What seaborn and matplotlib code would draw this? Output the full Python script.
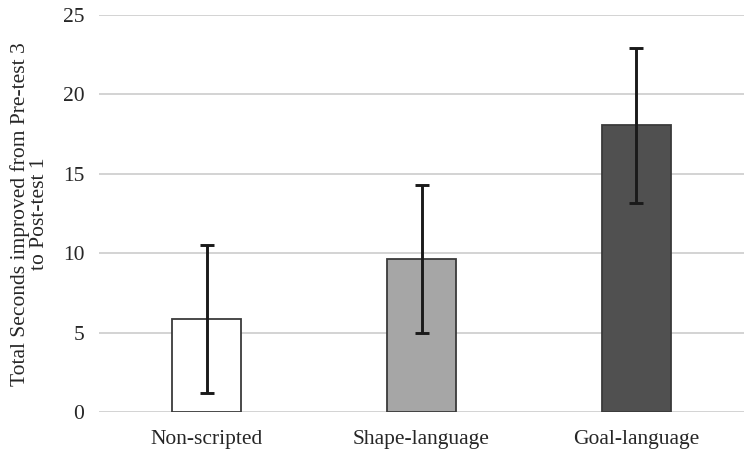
import matplotlib
matplotlib.use("Agg")
import matplotlib.pyplot as plt
import seaborn as sns
import pandas as pd

categories = ["Non-scripted", "Shape-language", "Goal-language"]
means = [5.85, 9.65, 18.05]
errors = [4.65, 4.67, 4.9]
colors = ["#ffffff", "#a6a6a6", "#505050"]
yticks = [0, 5, 10, 15, 20, 25]

sns.set_style("white")
plt.rcParams["font.family"] = ["Liberation Serif", "DejaVu Serif"]

df = pd.DataFrame({"cat": categories, "val": means})

fig = plt.figure(figsize=(7.5, 4.59), dpi=100)
ax = fig.add_axes([99.5 / 750, 1 - 412.3 / 459, 644 / 750, (412.3 - 15) / 459])

sns.barplot(data=df, x="cat", y="val", hue="cat", palette=colors, legend=False,
            width=0.32, edgecolor="#3a3a3a", linewidth=1.3, errorbar=None, ax=ax, zorder=3)
ax.errorbar(range(len(categories)), means, yerr=errors, fmt="none", ecolor="#1a1a1a",
            elinewidth=2.1, capsize=5, capthick=2.1, zorder=4)

ax.set_xlim(-0.5, 2.5)
ax.set_ylim(0, 25)
ax.set_yticks(yticks)
ax.set_yticklabels([str(t) for t in yticks])
ax.yaxis.grid(True, color="#d0d0d0", linewidth=1.3, zorder=0)
ax.set_axisbelow(True)
for s in ax.spines.values():
    s.set_visible(False)
ax.tick_params(axis="both", length=0, labelsize=15.5, colors="#262626")
ax.tick_params(axis="y", pad=11)
ax.tick_params(axis="x", pad=13)
ax.set_xlabel("")
ax.set_ylabel("Total Seconds improved from Pre-test 3\nto Post-test 1", fontsize=15.5,
              color="#262626", labelpad=10, linespacing=1.0)

fig.savefig("out.png", dpi=100)
